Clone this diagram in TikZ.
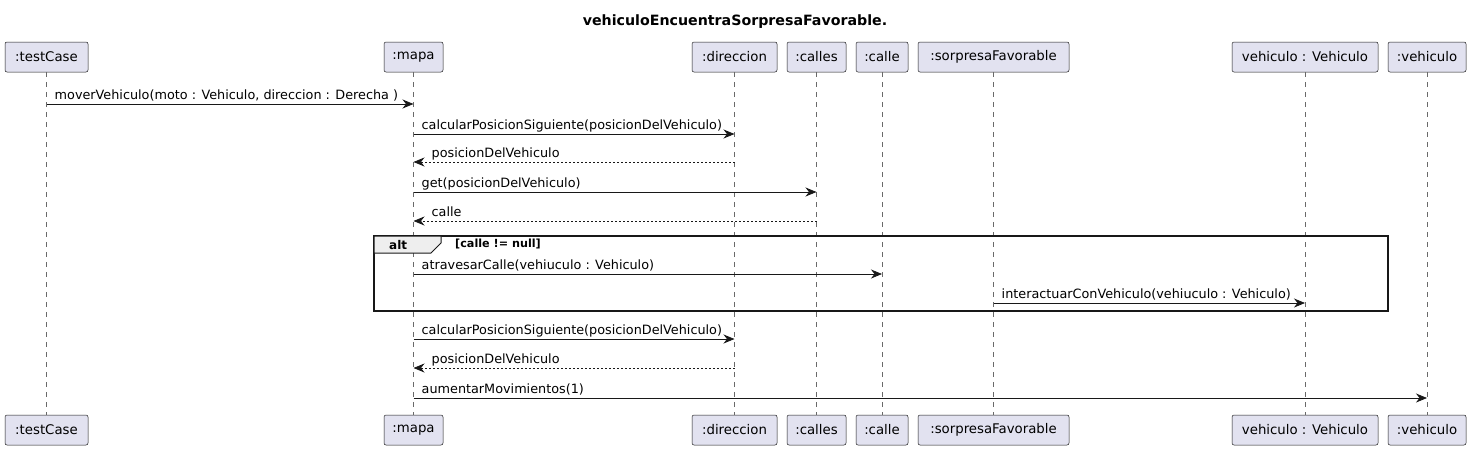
\documentclass[tikz,border=0pt]{standalone}
\usepackage{fontspec}
\setmainfont{DejaVu Sans}
\usetikzlibrary{arrows.meta}
\definecolor{pbox}{HTML}{E2E2F0}
\definecolor{ink}{HTML}{181818}
\definecolor{tabfill}{HTML}{EEEEEE}
\begin{document}
\begin{tikzpicture}[x=1pt,y=-1pt,
  part/.style={draw=ink,fill=pbox,rounded corners=2pt,line width=0.5pt,minimum height=30pt,inner xsep=6pt,inner ysep=0pt,font=\fontsize{13.3}{15}\selectfont,text=black},
  life/.style={draw=ink!65,line width=0.5pt,dash pattern=on 5pt off 5pt},
  msg/.style={draw=ink,line width=0.8pt,-{Stealth[length=11pt,width=9pt,inset=3.5pt]}},
  ret/.style={msg,dash pattern=on 2pt off 2pt},
  lbl/.style={anchor=base west,inner sep=0pt,font=\fontsize{12.8}{14}\selectfont},
]
\useasboundingbox (0,0) rectangle (1471,450);
\node[font=\bfseries\fontsize{14.2}{16}\selectfont] (title) at (735,22) {vehiculoEncuentraSorpresaFavorable.};

% participants top
\node[part,minimum width=83pt] (tcT) at (46.5,57) {:testCase};
\node[part,minimum width=59pt] (mpT) at (413.5,57) {:mapa};
\node[part,minimum width=85pt] (drT) at (734.5,57) {:direccion};
\node[part,minimum width=59pt] (csT) at (816.5,57) {:calles};
\node[part,minimum width=52pt] (clT) at (882,57) {:calle};
\node[part,minimum width=151pt] (sfT) at (993.5,57) {:sorpresaFavorable};
\node[part,minimum width=146pt] (vVT) at (1305,57) {vehiculo : Vehiculo};
\node[part,minimum width=78pt] (vhT) at (1427,57) {:vehiculo};
% participants bottom
\node[part,minimum width=83pt] (tcB) at (46.5,430) {:testCase};
\node[part,minimum width=59pt] (mpB) at (413.5,430) {:mapa};
\node[part,minimum width=85pt] (drB) at (734.5,430) {:direccion};
\node[part,minimum width=59pt] (csB) at (816.5,430) {:calles};
\node[part,minimum width=52pt] (clB) at (882,430) {:calle};
\node[part,minimum width=151pt] (sfB) at (993.5,430) {:sorpresaFavorable};
\node[part,minimum width=146pt] (vVB) at (1305,430) {vehiculo : Vehiculo};
\node[part,minimum width=78pt] (vhB) at (1427,430) {:vehiculo};

\foreach \p in {tc,mp,dr,cs,cl,sf,vV,vh}{
  \draw[life] (\p T.south) -- (\p B.north);
}

% alt frame
\draw[ink,line width=1.4pt] (374,236) rectangle (1388,311);
\filldraw[fill=tabfill,draw=ink,line width=1pt] (374,236) -- (441,236) -- (441,243) -- (431,253) -- (374,253) -- cycle;
\node[anchor=base west,inner sep=0pt,font=\bfseries\fontsize{12}{14}\selectfont] (altlbl) at (389,249) {alt};
\node[anchor=base west,inner sep=0pt,font=\bfseries\fontsize{11.2}{13}\selectfont] (guard) at (455,247) {[calle != null]};

% message y positions
\coordinate (m1) at (0,104);
\coordinate (m2) at (0,134);
\coordinate (m3) at (0,162);
\coordinate (m4) at (0,192);
\coordinate (m5) at (0,221);
\coordinate (m6) at (0,274);
\coordinate (m7) at (0,303);
\coordinate (m8) at (0,339);
\coordinate (m9) at (0,368);
\coordinate (m10) at (0,398);

\draw[msg] (tcT |- m1) -- (mpT |- m1);
\node[lbl] (l1) at ([xshift=8pt,yshift=5pt]tcT |- m1) {moverVehiculo(moto : Vehiculo, direccion : Derecha )};
\draw[msg] (mpT |- m2) -- (drT |- m2);
\node[lbl] (l2) at ([xshift=8pt,yshift=5pt]mpT |- m2) {calcularPosicionSiguiente(posicionDelVehiculo)};
\draw[ret] (drT |- m3) -- (mpT |- m3);
\node[lbl] (l3) at ([xshift=18pt,yshift=5pt]mpT |- m3) {posicionDelVehiculo};
\draw[msg] (mpT |- m4) -- (csT |- m4);
\node[lbl] (l4) at ([xshift=8pt,yshift=5pt]mpT |- m4) {get(posicionDelVehiculo)};
\draw[ret] (csT |- m5) -- (mpT |- m5);
\node[lbl] (l5) at ([xshift=18pt,yshift=5pt]mpT |- m5) {calle};
\draw[msg] (mpT |- m6) -- (clT |- m6);
\node[lbl] (l6) at ([xshift=8pt,yshift=5pt]mpT |- m6) {atravesarCalle(vehiuculo : Vehiculo)};
\draw[msg] (sfT |- m7) -- (vVT |- m7);
\node[lbl] (l7) at ([xshift=8pt,yshift=5pt]sfT |- m7) {interactuarConVehiculo(vehiuculo : Vehiculo)};
\draw[msg] (mpT |- m8) -- (drT |- m8);
\node[lbl] (l8) at ([xshift=8pt,yshift=5pt]mpT |- m8) {calcularPosicionSiguiente(posicionDelVehiculo)};
\draw[ret] (drT |- m9) -- (mpT |- m9);
\node[lbl] (l9) at ([xshift=18pt,yshift=5pt]mpT |- m9) {posicionDelVehiculo};
\draw[msg] (mpT |- m10) -- (vhT |- m10);
\node[lbl] (l10) at ([xshift=8pt,yshift=5pt]mpT |- m10) {aumentarMovimientos(1)};
\end{tikzpicture}
\end{document}
